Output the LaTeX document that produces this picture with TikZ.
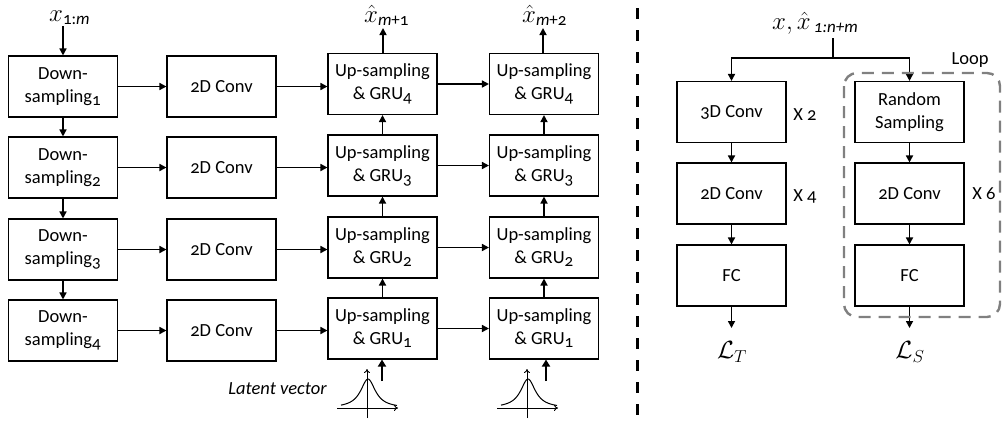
\documentclass[tikz,border=0pt]{standalone}
\usepackage{fontspec}
\setmainfont{Carlito}[Numbers=OldStyle]
\usetikzlibrary{arrows.meta}
\tikzset{
  blk/.style={draw, line width=1.1pt, minimum width=109pt, minimum height=61pt, inner sep=0pt, align=center, font=\fontsize{18.5}{23}\selectfont},
  arr/.style={line width=1.6pt, -{Triangle[length=7pt,width=7pt]}},
  thickarr/.style={line width=2.6pt, -{Triangle[length=7pt,width=8pt]}},
  axis/.style={line width=0.9pt, -{To[length=4pt,width=6pt]}},
  lbl/.style={inner sep=0pt, font=\fontsize{18.5}{22}\selectfont},
  sep/.style={line width=3pt, dash pattern=on 11pt off 11pt},
  loopbox/.style={draw=black!50, line width=2.4pt, dash pattern=on 12pt off 8pt, rounded corners=13pt}
}
\newcommand{\sbs}[1]{\textsubscript{\fontsize{17}{17}\selectfont #1}}
\newcommand{\mbig}[1]{{\fontsize{23}{23}\selectfont$#1$}}
\begin{document}
\begin{tikzpicture}[x=1pt,y=-1pt]
\useasboundingbox (0,0) rectangle (1003,421);
% left part
\foreach \i/\y in {1/86.5,2/167.5,3/249.5,4/330.5}{
  \node[blk] (d\i) at (63,\y) {Down-\\sampling\sbs{\i}};
  \node[blk] (c\i) at (221.5,\y) {2D Conv};
}
\foreach \i/\y in {1/84,2/165.5,3/247.5,4/328.5}{
  \pgfmathtruncatemacro{\g}{5-\i}
  \node[blk] (u\i) at (382.5,\y) {Up-sampling\\ \& GRU\sbs{\g}};
  \node[blk] (v\i) at (544,\y) {Up-sampling\\ \& GRU\sbs{\g}};
}
\foreach \i in {1,2,3,4}{
  \draw[arr] (d\i.east) -- (c\i.west);
  \draw[arr] (c\i.east) -- (c\i.east -| u\i.west);
  \draw[arr] (u\i.east) -- (v\i.west);
}
\foreach \a/\b in {1/2,2/3,3/4}{
  \draw[arr] (d\a.south) -- (d\b.north);
  \draw[arr] (u\b.north) -- (u\a.south);
  \draw[arr] (v\b.north) -- (v\a.south);
}
\node[lbl, anchor=base west] (xin) at (49,21) {\mbig{x}\sbs{1:\textit{m}}};
\coordinate (xinb) at (63,26);
\draw[arr] (xinb) -- (d1.north);
\node[lbl, anchor=base west] (o1) at (364,22) {\mbig{\hat{x}}\sbs{\textit{m}+1}};
\node[lbl, anchor=base west] (o2) at (522,22) {\mbig{\hat{x}}\sbs{\textit{m}+2}};
\coordinate (o1b) at (383,28);
\coordinate (o2b) at (543,28);
\draw[arr] (u1.north -| o1b) -- (o1b);
\draw[arr] (v1.north -| o2b) -- (o2b);
% gaussians
\foreach \n/\cx/\ax in {g1/367/382, g2/527/546}{
  \coordinate (\n xl) at (\cx-30,408);
  \coordinate (\n xr) at (\cx+31,408);
  \coordinate (\n yb) at (\cx,418);
  \coordinate (\n yt) at (\cx,369);
  \draw[axis] (\n xl) -- (\n xr);
  \draw[axis] (\n yb) -- (\n yt);
  \draw[line width=1pt] plot[domain=-27:29, samples=60, smooth] ({\cx+1+\x}, {408-29/(1+(\x/9)^2)});
  \coordinate (\n a) at (\ax,381);
}
\draw[thickarr] (g1a) -- (g1a |- u4.south);
\draw[thickarr] (g2a) -- (g2a |- v4.south);
\node[lbl, font=\fontsize{18.5}{22}\selectfont\itshape] (lv) at (277.5,389) {Latent vector};
% separator
\coordinate (s1) at (637,8);
\coordinate (s2) at (637,416);
\draw[sep] (s1) -- (s2);
% right part
\node[blk] (t1) at (731.5,112) {3D Conv};
\node[blk] (t2) at (731.5,193.5) {2D Conv};
\node[blk] (t3) at (731.5,275.5) {FC};
\node[blk] (r1) at (909.5,112) {Random\\Sampling};
\node[blk] (r2) at (909.5,193.5) {2D Conv};
\node[blk] (r3) at (909.5,275.5) {FC};
\draw[arr] (t1) -- (t2);
\draw[arr] (t2) -- (t3);
\draw[arr] (r1) -- (r2);
\draw[arr] (r2) -- (r3);
\node[lbl, anchor=base west] (inp) at (772,29) {\mbig{x,\hat{x}}\,\sbs{\textit{1:n+m}}};
\coordinate (br) at (833,58);
\coordinate (brt) at (833,38);
\draw[line width=1.6pt] (brt) -- (br);
\draw[arr] (br) -| (t1.north);
\draw[arr] (br) -| (r1.north);
\coordinate (lt) at (731.5,328);
\coordinate (ls) at (909.5,328);
\draw[arr] (t3.south) -- (lt);
\draw[arr] (r3.south) -- (ls);
\node[lbl] (LT) at (732,352) {\mbig{\mathcal{L}_T}};
\node[lbl] (LS) at (910,352) {\mbig{\mathcal{L}_S}};
\node[lbl] (x2) at (805,115) {X 2};
\node[lbl] (x4) at (805,196) {X 4};
\node[lbl] (x6) at (984,194) {X 6};
\draw[loopbox] (844,73) rectangle (1000,317);
\node[lbl] (loop) at (970,60) {Loop};
\end{tikzpicture}
\end{document}
